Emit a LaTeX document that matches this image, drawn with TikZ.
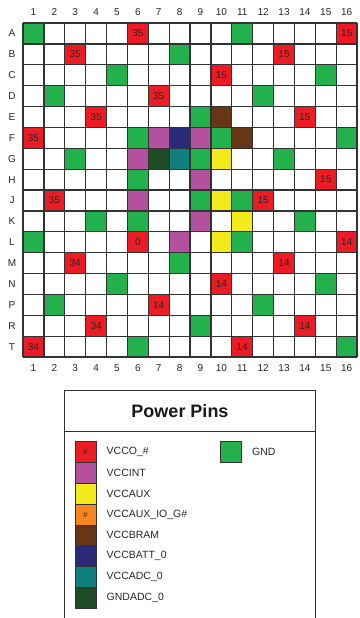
\documentclass[tikz,border=0pt]{standalone}
\usepackage{fontspec}
\setmainfont{Liberation Sans}
\definecolor{cvcco}{HTML}{ED1C24}
\definecolor{cvco}{HTML}{ED1C24}
\definecolor{cgnd}{HTML}{22B14C}
\definecolor{cvint}{HTML}{B4519F}
\definecolor{cvaux}{HTML}{F2EA1A}
\definecolor{cvauxio}{HTML}{F7861F}
\definecolor{cbram}{HTML}{673614}
\definecolor{cbatt}{HTML}{2A2A78}
\definecolor{cvadc}{HTML}{0F7F7F}
\definecolor{cgadc}{HTML}{1E4A25}
\definecolor{cline}{HTML}{333333}
\begin{document}
\begin{tikzpicture}[x=1pt,y=-1pt,
  gridline/.style={draw=cline,line width=1.3pt},
  axislab/.style={font=\fontsize{10}{11}\selectfont,text=black!85,inner sep=0pt},
  cellnode/.style={minimum size=20.88pt,inner sep=0pt,draw=none,font=\fontsize{10}{11}\selectfont,text=black!85},
  swatch/.style={minimum size=20.8pt,inner sep=0pt,draw=cline,line width=0.8pt,font=\fontsize{7.5}{8}\selectfont,text=black!85},
  leglab/.style={anchor=west,inner sep=0pt,font=\fontsize{10.5}{12}\selectfont,text=black!85},
  boxline/.style={draw=cline,line width=1pt}]
\useasboundingbox (0,0) rectangle (359,618);
\def\cs{20.88}
\def\gx{23}
\def\gy{23}
% pins
\foreach \r/\c/\col/\t in {
 1/1/cgnd/{},1/6/cvco/35,1/11/cgnd/{},1/16/cvco/15,
 2/3/cvco/35,2/8/cgnd/{},2/13/cvco/15,
 3/5/cgnd/{},3/10/cvco/15,3/15/cgnd/{},
 4/2/cgnd/{},4/7/cvco/35,4/12/cgnd/{},
 5/4/cvco/35,5/9/cgnd/{},5/10/cbram/{},5/14/cvco/15,
 6/1/cvco/35,6/6/cgnd/{},6/7/cvint/{},6/8/cbatt/{},6/9/cvint/{},6/10/cgnd/{},6/11/cbram/{},6/16/cgnd/{},
 7/3/cgnd/{},7/6/cvint/{},7/7/cgadc/{},7/8/cvadc/{},7/9/cgnd/{},7/10/cvaux/{},7/13/cgnd/{},
 8/6/cgnd/{},8/9/cvint/{},8/15/cvco/15,
 9/2/cvco/35,9/6/cvint/{},9/9/cgnd/{},9/10/cvaux/{},9/11/cgnd/{},9/12/cvco/15,
 10/4/cgnd/{},10/6/cgnd/{},10/9/cvint/{},10/11/cvaux/{},10/14/cgnd/{},
 11/1/cgnd/{},11/6/cvco/0,11/8/cvint/{},11/10/cvaux/{},11/11/cgnd/{},11/16/cvco/14,
 12/3/cvco/34,12/8/cgnd/{},12/13/cvco/14,
 13/5/cgnd/{},13/10/cvco/14,13/15/cgnd/{},
 14/2/cgnd/{},14/7/cvco/14,14/12/cgnd/{},
 15/4/cvco/34,15/9/cgnd/{},15/14/cvco/14,
 16/1/cvco/34,16/6/cgnd/{},16/11/cvco/14,16/16/cgnd/{}}{
  \node[cellnode,fill=\col] (p-\r-\c) at ({\gx+\cs*(\c-0.5)},{\gy+\cs*(\r-0.5)}) {\t};
}
% grid lines
\foreach \i in {0,...,16}{
  \draw[gridline] ({\gx+\cs*\i},\gy) -- ({\gx+\cs*\i},{\gy+16*\cs});
  \draw[gridline] (\gx,{\gy+\cs*\i}) -- ({\gx+16*\cs},{\gy+\cs*\i});
}
% axis labels
\foreach \r [count=\i] in {A,B,C,D,E,F,G,H,J,K,L,M,N,P,R,T}{
  \node[axislab] (row-\r) at (12,{\gy+\cs*(\i-0.5)}) {\r};
}
\foreach \c in {1,...,16}{
  \node[axislab] (top-\c) at ({\gx+\cs*(\c-0.5)},12.5) {\c};
  \node[axislab] (bot-\c) at ({\gx+\cs*(\c-0.5)},368) {\c};
}
% legend box
\coordinate (lb-bl) at (64.5,618);
\coordinate (lb-tl) at (64.5,390);
\coordinate (lb-tr) at (315,390);
\coordinate (lb-br) at (315,618);
\draw[boxline] (lb-bl) -- (lb-tl) -- (lb-tr) -- (lb-br);
\coordinate (dv-l) at (64.5,431.5);
\coordinate (dv-r) at (315,431.5);
\draw[boxline] (dv-l) -- (dv-r);
\node[inner sep=0pt,font=\fontsize{18}{20}\selectfont\bfseries,text=black!90] (title) at (180,411.5) {Power Pins};
% legend swatches
\foreach \col/\t/\lab [count=\k] in {
 cvcco/\#/VCCO\_\#, cvint/{}/VCCINT, cvaux/{}/VCCAUX, cvauxio/\#/VCCAUX\_IO\_G\#,
 cbram/{}/VCCBRAM, cbatt/{}/VCCBATT\_0, cvadc/{}/VCCADC\_0, cgadc/{}/GNDADC\_0}{
  \node[swatch,fill=\col] (sw-\k) at (85.5,{441.7+20.8*(\k-0.5)}) {\t};
  \node[leglab] (lab-\k) at (106.5,{441.7+20.8*(\k-0.5)}) {\lab};
}
\node[swatch,fill=cgnd] (sw-gnd) at (231.2,452.1) {};
\node[leglab] (lab-gnd) at (252,452.1) {GND};
\end{tikzpicture}
\end{document}
